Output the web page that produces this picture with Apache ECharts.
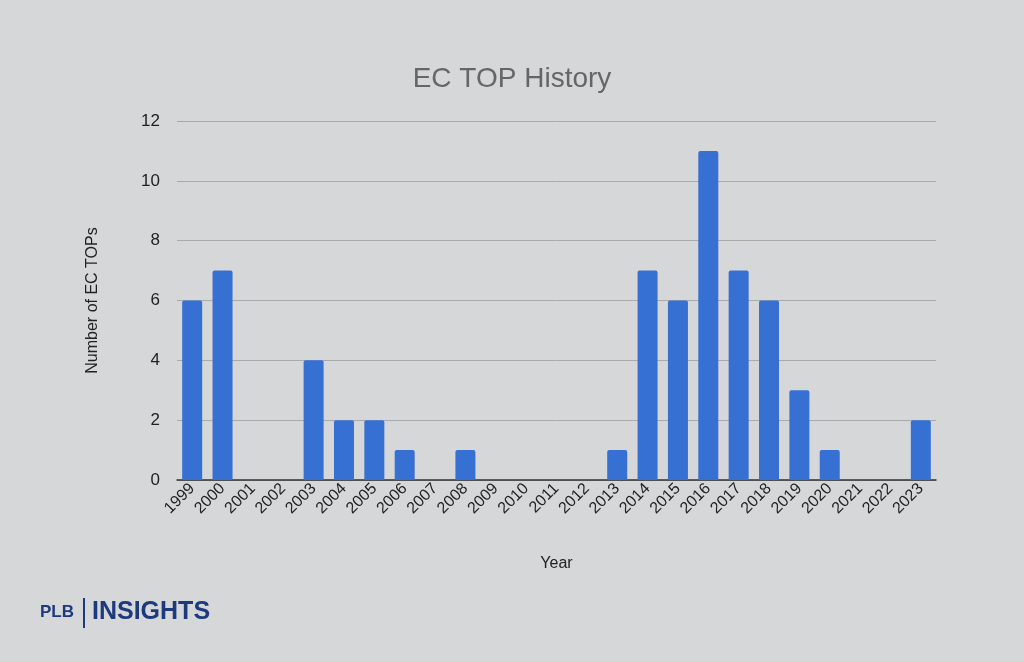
<!DOCTYPE html>
<html><head><meta charset="utf-8">
<script src="https://cdn.jsdelivr.net/npm/echarts@6/dist/echarts.min.js"></script>
<style>html,body{margin:0;padding:0;background:#d6d7d9;}#c{width:1024px;height:662px;}</style>
</head><body><div id="c"></div>
<script>
const years = ['1999','2000','2001','2002','2003','2004','2005','2006','2007','2008','2009','2010','2011','2012','2013','2014','2015','2016','2017','2018','2019','2020','2021','2022','2023'];
const counts = [6,7,0,0,4,2,2,1,0,1,0,0,0,0,1,7,6,11,7,6,3,1,0,0,2];
const yTicks = [0,2,4,6,8,10,12];

const chart = echarts.init(document.getElementById('c'));
chart.setOption({
  backgroundColor: '#d6d7d9',
  animation: false,
  title: {
    text: 'EC TOP History', left: 'center', top: 60,
    textStyle: {fontFamily: 'Liberation Sans, Arial', fontSize: 28, fontWeight: 'normal', color: '#666666'}
  },
  grid: {left: 177, right: 88, top: 121, bottom: 182},
  xAxis: {
    type: 'category', data: years,
    name: 'Year', nameLocation: 'middle', nameGap: 76,
    nameTextStyle: {fontFamily: 'Liberation Sans, Arial', fontSize: 16, color: '#222'},
    axisLine: {lineStyle: {color: '#333', width: 1.5}},
    axisTick: {show: false},
    axisLabel: {rotate: 45, interval: 0, fontFamily: 'Liberation Sans, Arial', fontSize: 16, color: '#222', margin: 6}
  },
  yAxis: {
    type: 'value', min: 0, max: 12, interval: 2,
    name: 'Number of EC TOPs', nameLocation: 'middle', nameGap: 76,
    nameTextStyle: {fontFamily: 'Liberation Sans, Arial', fontSize: 16, color: '#222'},
    axisLine: {show: false}, axisTick: {show: false},
    axisLabel: {fontFamily: 'Liberation Sans, Arial', fontSize: 17, color: '#222', margin: 17,
      formatter: v => yTicks.includes(v) ? String(v) : ''},
    splitLine: {lineStyle: {color: '#a9aaac', width: 1}}
  },
  series: [{
    type: 'bar', data: counts, barWidth: 20,
    itemStyle: {color: '#3670d2', borderRadius: [2,2,0,0]}
  }],
  graphic: [
    {type: 'text', left: 40, top: 604, style: {text: 'PLB', font: 'bold 17px "Liberation Sans", Arial', fill: '#1d3a7c'}},
    {type: 'rect', left: 83, top: 598, shape: {width: 2, height: 30}, style: {fill: '#1d3a7c'}},
    {type: 'text', left: 92, top: 600, style: {text: 'INSIGHTS', font: 'bold 25px "Liberation Sans", Arial', fill: '#1d3a7c'}}
  ]
});
</script></body></html>
